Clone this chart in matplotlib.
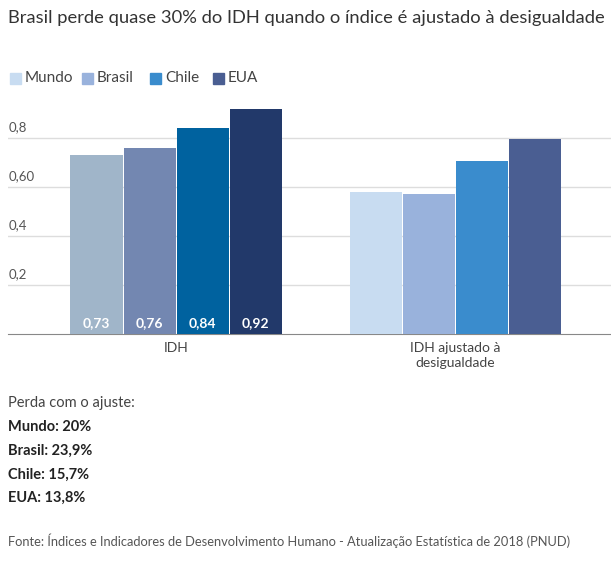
import matplotlib
matplotlib.use("Agg")
import matplotlib.pyplot as plt
from matplotlib.patches import Rectangle

plt.rcParams["font.family"] = ["Lato", "DejaVu Sans"]

countries = ["Mundo", "Brasil", "Chile", "EUA"]
groups = ["IDH", "IDH ajustado à\ndesigualdade"]
idh = [0.73, 0.76, 0.84, 0.92]
idh_labels = ["0,73", "0,76", "0,84", "0,92"]
idh_ajustado = [0.578, 0.573, 0.706, 0.795]
perdas = ["Mundo: 20%", "Brasil: 23,9%", "Chile: 15,7%", "EUA: 13,8%"]
yticks = [0.2, 0.4, 0.6, 0.8]
ytick_labels = ["0,2", "0,4", "0,60", "0,8"]

cores_idh = ["#a0b5c9", "#7387b1", "#00629f", "#22396a"]
cores_aj = ["#c8dcf1", "#99b2dc", "#3a8ccd", "#4a5e92"]

W, H = 611, 565
fig = plt.figure(figsize=(W / 100, H / 100), dpi=100)

# axes placed in pixel terms: baseline at y=334, 0.2 units = 49 px
base_y, px_per_unit, ymax = 334, 245, 0.95
ax = fig.add_axes([8 / W, (H - base_y) / H, 1 - 8 / W, ymax * px_per_unit / H])

step, width = 53 / 279.5, 52 / 279.5
for i in range(4):
    off = (i - 1.5) * step
    ax.bar(0 + off, idh[i], width, color=cores_idh[i], zorder=3)
    ax.bar(1 + off, idh_ajustado[i], width, color=cores_aj[i], zorder=3)
    ax.text(0 + off, 0.045, idh_labels[i], ha="center", va="center",
            color="white", fontsize=10, fontweight="bold", zorder=4)

ax.set_xlim(-0.601, 1.556)
ax.set_ylim(0, ymax)
for s in ["top", "right", "left"]:
    ax.spines[s].set_visible(False)
ax.spines["bottom"].set_color("#888888")
ax.set_yticks([])
ax.set_xticks([0, 1])
ax.set_xticklabels(groups, fontsize=10, color="#444444", linespacing=1.3)
ax.tick_params(axis="x", length=0, pad=6)
for v, lab in zip(yticks, ytick_labels):
    ax.axhline(v, color="#dddddd", lw=1, zorder=1)
    ax.text(-0.6 + 0.002, v + 0.02, lab, ha="left", va="bottom",
            fontsize=9.5, color="#555555")

# title
fig.text(8 / W, 1 - 18 / H, "Brasil perde quase 30% do IDH quando o índice é ajustado à desigualdade",
         ha="left", va="center", fontsize=13.2, color="#333333")

# legend
lx = [10, 82, 150, 213]
for x, c, name in zip(lx, cores_aj, countries):
    fig.patches.append(Rectangle((x / W, 1 - 84 / H), 11 / W, 11 / H,
                                 transform=fig.transFigure, color=c))
    fig.text((x + 15) / W, 1 - 78 / H, name, ha="left", va="center",
             fontsize=11, color="#444444")

# bottom notes
fig.text(8 / W, 1 - 403 / H, "Perda com o ajuste:", ha="left", va="center",
         fontsize=10.5, color="#444444")
for j, t in enumerate(perdas):
    fig.text(8 / W, 1 - (427 + j * 23.7) / H, t, ha="left", va="center",
             fontsize=10.5, color="#222222", fontweight="bold")
fig.text(8 / W, 1 - 541 / H,
         "Fonte: Índices e Indicadores de Desenvolvimento Humano - Atualização Estatística de 2018 (PNUD)",
         ha="left", va="center", fontsize=9.3, color="#555555")

fig.savefig("out.png", dpi=100)
